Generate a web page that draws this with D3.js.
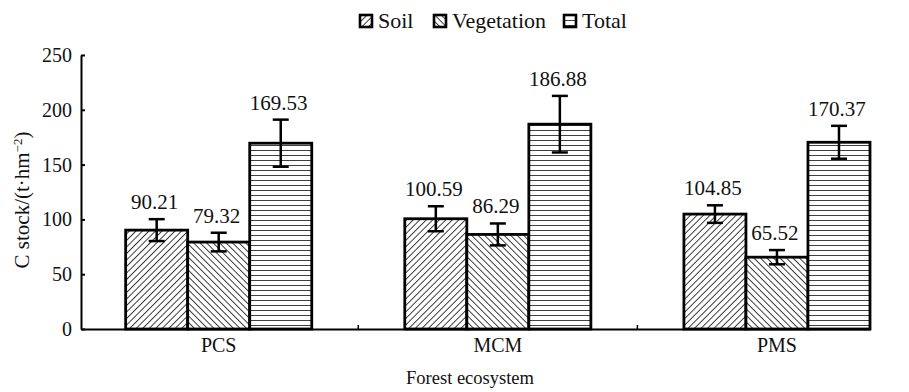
<!DOCTYPE html>
<html><head><meta charset="utf-8">
<script src="https://cdn.jsdelivr.net/npm/d3@7"></script>
<style>
html,body{margin:0;padding:0;background:#fff;}
svg{display:block;font-family:"Liberation Serif","Times New Roman",serif;}
</style></head>
<body>
<svg id="chart" width="909" height="392"></svg>
<script>
const categories = ["PCS", "MCM", "PMS"];
const seriesNames = ["Soil", "Vegetation", "Total"];
const soilValues = [90.21, 100.59, 104.85];
const vegValues = [79.32, 86.29, 65.52];
const totalValues = [169.53, 186.88, 170.37];
const soilErr = [10, 11.4, 8];
const vegErr = [8.5, 10, 6.5];
const totalErr = [21.5, 25.8, 15];
const yTicks = [0, 50, 100, 150, 200, 250];

const svg = d3.select("#chart");
const margin = {left: 81, right: 39, top: 55, bottom: 63};
const W = 909, H = 392;
const FONT = "Liberation Serif";

const defs = svg.append("defs");
function hatch(id, angle, spacing) {
  const p = defs.append("pattern").attr("id", id)
    .attr("patternUnits", "userSpaceOnUse")
    .attr("width", spacing).attr("height", spacing)
    .attr("patternTransform", `rotate(${angle})`);
  p.append("rect").attr("width", spacing).attr("height", spacing).attr("fill", "#fff");
  p.append("line").attr("x1", 0).attr("y1", 0).attr("x2", 0).attr("y2", spacing)
    .attr("stroke", "#000").attr("stroke-width", 1.5);
}
hatch("pSoil", 45, 4.6);
hatch("pVeg", -45, 4.6);
hatch("pTot", 90, 5);
const fills = ["url(#pSoil)", "url(#pVeg)", "url(#pTot)"];

const x0 = d3.scaleBand().domain(categories)
  .range([margin.left, W - margin.right])
  .paddingInner(1/3).paddingOuter(0.08).align(1);
const x1 = d3.scaleBand().domain(seriesNames).range([0, x0.bandwidth()]);
const y = d3.scaleLinear().domain([0, 250]).range([H - margin.bottom, margin.top]);

const data = categories.map((c, i) => ({
  cat: c,
  vals: [
    {s: "Soil", v: soilValues[i], e: soilErr[i]},
    {s: "Vegetation", v: vegValues[i], e: vegErr[i]},
    {s: "Total", v: totalValues[i], e: totalErr[i]}
  ]
}));

const groups = svg.append("g").selectAll("g").data(data).join("g")
  .attr("transform", d => `translate(${x0(d.cat)},0)`);

groups.selectAll("rect").data(d => d.vals).join("rect")
  .attr("x", d => x1(d.s)).attr("y", d => y(d.v))
  .attr("width", x1.bandwidth()).attr("height", d => y(0) - y(d.v))
  .attr("fill", (d, i) => fills[i])
  .attr("stroke", "#000").attr("stroke-width", 2.8);

// error bars
const eb = groups.selectAll("g.eb").data(d => d.vals).join("g").attr("class", "eb");
eb.append("line")
  .attr("x1", d => x1(d.s) + x1.bandwidth()/2).attr("x2", d => x1(d.s) + x1.bandwidth()/2)
  .attr("y1", d => y(d.v + d.e)).attr("y2", d => y(d.v - d.e))
  .attr("stroke", "#000").attr("stroke-width", 2.5);
eb.selectAll("line.cap").data(d => [[d, d.v + d.e], [d, d.v - d.e]]).join("line").attr("class", "cap")
  .attr("x1", d => x1(d[0].s) + x1.bandwidth()/2 - 8).attr("x2", d => x1(d[0].s) + x1.bandwidth()/2 + 8)
  .attr("y1", d => y(d[1])).attr("y2", d => y(d[1]))
  .attr("stroke", "#000").attr("stroke-width", 2.5);

// value labels
groups.selectAll("text.val").data(d => d.vals).join("text").attr("class", "val")
  .attr("x", d => x1(d.s) + x1.bandwidth()/2 - 2)
  .attr("y", d => y(d.v + d.e) - 10)
  .attr("text-anchor", "middle").attr("font-size", 21).attr("fill", "#111")
  .text(d => d.v.toFixed(2));

// y axis
const yAxis = d3.axisLeft(y).tickValues(yTicks).tickSizeInner(-4).tickSizeOuter(0).tickPadding(9);
const yg = svg.append("g").attr("transform", `translate(${margin.left},0)`).call(yAxis);
yg.select(".domain").attr("stroke", "#000").attr("stroke-width", 2);
yg.selectAll(".tick line").attr("stroke", "#000").attr("stroke-width", 2);
yg.selectAll(".tick text").attr("font-size", 20).attr("font-family", FONT).attr("fill", "#111");

// x axis
const xAxis = d3.axisBottom(x0).tickSize(0).tickPadding(9);
const xg = svg.append("g").attr("transform", `translate(0,${y(0)})`).call(xAxis);
xg.select(".domain").attr("stroke", "#000").attr("stroke-width", 2.2);
xg.selectAll(".tick text").attr("font-size", 20).attr("font-family", FONT).attr("fill", "#111")
  .attr("dy", "0.71em");
// inward ticks between groups
const bounds = categories.slice(1).map((c, i) => (x0(categories[i]) + x0.bandwidth() + x0(c)) / 2);
svg.append("g").selectAll("line").data(bounds).join("line")
  .attr("x1", d => d).attr("x2", d => d)
  .attr("y1", y(0)).attr("y2", y(0) - 4)
  .attr("stroke", "#000").attr("stroke-width", 1.5);

// axis titles
svg.append("text").attr("x", 470).attr("y", 384)
  .attr("text-anchor", "middle").attr("font-size", 18.5).attr("fill", "#111").text("Forest ecosystem");
const yt = svg.append("text")
  .attr("transform", `translate(29,${(y(0) + y(250)) / 2 + 8}) rotate(-90)`)
  .attr("text-anchor", "middle").attr("font-size", 21).attr("fill", "#111");
yt.append("tspan").text("C stock/(t·hm");
yt.append("tspan").attr("baseline-shift", "super").attr("font-size", 13).text("−2");
yt.append("tspan").text(")");

// legend
const legX = [360, 434, 564];
const leg = svg.append("g").selectAll("g").data(seriesNames).join("g")
  .attr("transform", (d, i) => `translate(${legX[i]},15)`);
leg.append("rect").attr("width", 12).attr("height", 12)
  .attr("fill", (d, i) => fills[i]).attr("stroke", "#000").attr("stroke-width", 2.6);
leg.append("text").attr("x", 18).attr("y", 13).attr("font-size", 22).attr("fill", "#111").text(d => d);
</script>
</body></html>
